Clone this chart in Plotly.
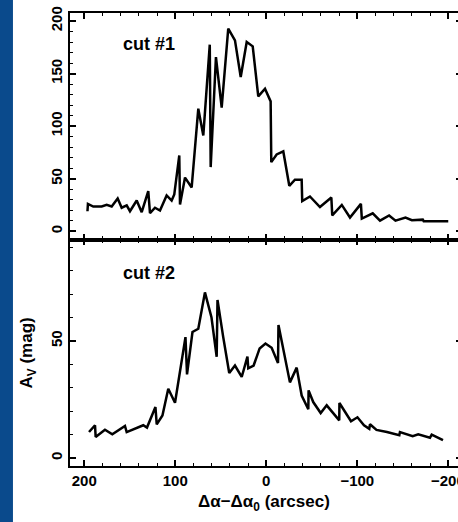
import plotly.graph_objects as go

# ---- data: cut #1 (top panel) ----
cut1_x = [196.5, 196.0, 190.1, 180.9, 175.4, 169.9, 163.3, 158.9, 153.4, 149.8, 142.4, 136.9,
          129.7, 127.8, 122.3, 116.8, 109.5, 104.0, 101.1, 95.6, 94.8, 89.3, 82.0, 74.7, 69.2,
          62.1, 61.1, 55.3, 49.0, 41.8, 34.4, 28.1, 21.5, 14.9, 8.8, 1.4, -4.8, -5.5, -11.4,
          -18.7, -25.3, -31.5, -38.9, -39.5, -48.0, -59.0, -71.5, -72.5, -83.0, -92.0, -104.0,
          -105.0, -117.0, -125.0, -135.0, -142.0, -153.0, -160.0, -172.0, -173.0, -200.0]
cut1_y = [19.0, 26.0, 23.5, 23.5, 25.1, 23.5, 31.1, 22.3, 24.5, 19.0, 29.2, 18.1,
          38.1, 17.1, 22.3, 19.7, 34.0, 29.2, 35.0, 72.1, 25.4, 51.0, 41.6, 116.6, 91.1,
          177.5, 61.0, 165.7, 117.5, 192.8, 181.6, 146.7, 180.0, 175.9, 128.3, 135.6, 123.5, 65.7, 73.0,
          75.9, 43.2, 49.0, 49.0, 28.6, 33.0, 23.0, 32.0, 15.0, 25.0, 13.0, 26.0,
          12.0, 17.0, 10.0, 15.0, 10.0, 13.0, 10.5, 11.0, 9.5, 9.5]

# ---- data: cut #2 (bottom panel) ----
cut2_x = [194.8, 188.2, 187.5, 177.3, 169.2, 155.3, 153.4, 143.5, 135.2, 131.1, 121.8, 120.4,
          114.1, 107.7, 100.3, 88.8, 87.1, 81.1, 74.7, 67.4, 60.2, 54.5, 53.6, 47.3, 40.7,
          34.4, 27.0, 20.7, 19.8, 13.9, 7.3, 0.9, -5.9, -12.9, -13.4, -26.0, -33.4, -38.9,
          -46.2, -46.5, -51.6, -59.8, -66.4, -80.2, -80.4, -93.1, -100.2, -107.4, -113.2,
          -114.0, -121.1, -132.6, -146.2, -146.9, -160.9, -167.0, -179.9, -181.8, -194.2]
cut2_y = [11.1, 14.0, 9.0, 12.1, 10.1, 13.7, 11.1, 12.5, 14.0, 13.0, 21.8, 14.4,
          18.2, 29.6, 23.6, 51.6, 35.7, 53.8, 55.2, 70.7, 60.0, 43.2, 67.5, 51.6, 36.3,
          39.5, 34.6, 43.3, 38.3, 39.5, 46.8, 48.9, 47.1, 40.6, 56.8, 32.3, 38.6, 26.7,
          20.8, 28.9, 23.9, 19.2, 22.5, 16.1, 23.5, 15.7, 17.4, 14.0, 12.5,
          14.4, 12.0, 11.1, 9.7, 11.1, 9.3, 10.1, 8.7, 10.0, 7.6]

panel_labels = ["cut #1", "cut #2"]
edge_tick_value = -200
edge_tick_text = "−200"
x_title = "Δα−Δα<sub>0</sub> (arcsec)"
y_title = "A<sub>V</sub> (mag)"

FONT = "Liberation Sans"
X_RANGE = [215.7, -210.7]
Y1_RANGE = [-7.9, 207.6]
Y2_RANGE = [-3.4, 93.3]

fig = go.Figure()
fig.add_trace(go.Scatter(x=cut2_x, y=cut2_y, mode="lines", xaxis="x", yaxis="y",
                         line=dict(color="black", width=2.5), showlegend=False))
fig.add_trace(go.Scatter(x=cut1_x, y=cut1_y, mode="lines", xaxis="x2", yaxis="y2",
                         line=dict(color="black", width=2.5), showlegend=False))

tickfont = dict(family=FONT, size=15, color="black", weight="bold")
axis_common = dict(showline=True, linecolor="black", linewidth=1.8, ticks="inside",
                   tickcolor="black", tickwidth=1.5, ticklen=6, showgrid=False, zeroline=False,
                   tickfont=tickfont)

xminor = dict(dtick=20, tick0=0, ticks="inside", ticklen=3.5, tickwidth=1.3, tickcolor="black", showgrid=False)
yminor = dict(dtick=10, tick0=0, ticks="inside", ticklen=3.5, tickwidth=1.3, tickcolor="black", showgrid=False)

fig.update_layout(
    width=458, height=522,
    margin=dict(l=70, r=0, t=13, b=56),
    paper_bgcolor="white", plot_bgcolor="white",
    xaxis=dict(domain=[0, 1], anchor="y", range=X_RANGE, tickmode="linear", tick0=0, dtick=100,
               mirror="ticks", minor=xminor, automargin=False, **axis_common),
    xaxis2=dict(domain=[0, 1], anchor="y2", range=X_RANGE, tickmode="linear", tick0=0, dtick=100,
                mirror="ticks", minor=xminor, showticklabels=False, automargin=False, **axis_common),
    yaxis=dict(domain=[0, 0.5], anchor="x", range=Y2_RANGE, tickmode="linear", tick0=0, dtick=50,
               tickangle=-90, minor=yminor, automargin=False, **axis_common),
    yaxis2=dict(domain=[0.5, 1], anchor="x2", range=Y1_RANGE, tickmode="linear", tick0=0, dtick=50,
                tickangle=-90, minor=yminor, automargin=False, **axis_common),
    yaxis3=dict(overlaying="y", side="right", anchor="x", range=Y2_RANGE, tickmode="linear", tick0=0,
                dtick=50, ticks="inside", ticklen=2, tickcolor="black", tickwidth=1.5,
                showticklabels=False, showline=False, showgrid=False, zeroline=False, automargin=False),
    yaxis4=dict(overlaying="y2", side="right", anchor="x2", range=Y1_RANGE, tickmode="linear", tick0=0,
                dtick=50, ticks="inside", ticklen=2, tickcolor="black", tickwidth=1.5,
                showticklabels=False, showline=False, showgrid=False, zeroline=False, automargin=False),
)

# invisible traces to activate the right-side tick axes
fig.add_trace(go.Scatter(x=[None], y=[None], xaxis="x", yaxis="y3", showlegend=False, hoverinfo="skip"))
fig.add_trace(go.Scatter(x=[None], y=[None], xaxis="x2", yaxis="y4", showlegend=False, hoverinfo="skip"))

# blue strip on the left edge
fig.add_shape(type="rect", xref="paper", yref="paper", x0=-0.1805, x1=-0.147, y0=-0.13, y1=1.04,
              fillcolor="#0a4a8c", line=dict(width=0), layer="above")

# edge tick label that runs past the right border (clipped like in the reference)
fig.add_annotation(x=edge_tick_value, y=-0.0316, xref="x", yref="paper", text=edge_tick_text,
                   showarrow=False, xanchor="center", yanchor="middle", font=tickfont)

# panel labels
fig.add_annotation(x=160, y=178, xref="x2", yref="y2", text=panel_labels[0], showarrow=False,
                   xanchor="left", yanchor="middle",
                   font=dict(family=FONT, size=18, color="black", weight="bold"))
fig.add_annotation(x=160, y=79, xref="x", yref="y", text=panel_labels[1], showarrow=False,
                   xanchor="left", yanchor="middle",
                   font=dict(family=FONT, size=18, color="black", weight="bold"))

# axis titles
fig.add_annotation(x=0.5, y=-0.0817, xref="paper", yref="paper", text=x_title, showarrow=False,
                   xanchor="center", yanchor="middle",
                   font=dict(family=FONT, size=17, color="black", weight="bold"))
fig.add_annotation(x=-0.1075, y=0.249, xref="paper", yref="paper", text=y_title, showarrow=False,
                   textangle=-90, xanchor="center", yanchor="middle",
                   font=dict(family=FONT, size=17, color="black", weight="bold"))

fig.write_html("out.html")
